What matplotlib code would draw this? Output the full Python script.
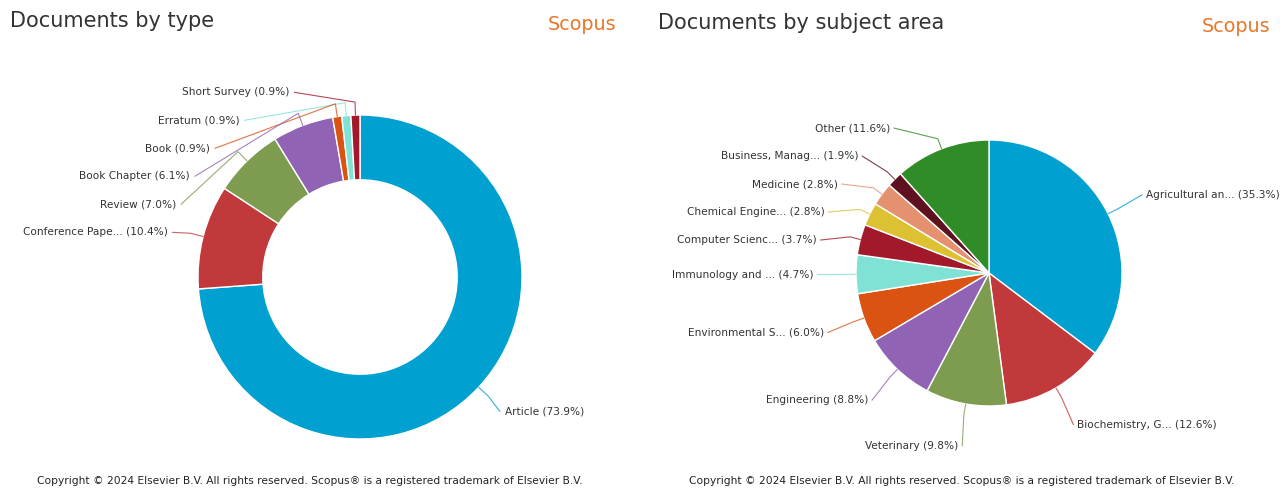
import numpy as np
import matplotlib.pyplot as plt

# documents by type
type_labels = ['Article', 'Conference Pape...', 'Review', 'Book Chapter',
               'Book', 'Erratum', 'Short Survey']
type_values = [73.9, 10.4, 7.0, 6.1, 0.9, 0.9, 0.9]
type_colors = ['#00a0d0', '#c2393c', '#7d9c4f', '#9163b4',
               '#da5312', '#80e2d5', '#a3192c']

# documents by subject area
subj_labels = ['Agricultural an...', 'Biochemistry, G...', 'Veterinary',
               'Engineering', 'Environmental S...', 'Immunology and ...',
               'Computer Scienc...', 'Chemical Engine...', 'Medicine',
               'Business, Manag...', 'Other']
subj_values = [35.3, 12.6, 9.8, 8.8, 6.0, 4.7, 3.7, 2.8, 2.8, 1.9, 11.6]
subj_colors = ['#00a0d0', '#c2393c', '#7d9c4f', '#9163b4', '#da5312',
               '#80e2d5', '#a3192c', '#dcc133', '#e5906f', '#5e1220',
               '#2f8c26']

TXT = '#333333'
ORANGE = '#e8772a'


def spread(items, gap, top):
    # push labels apart vertically, starting from the top one
    items.sort(key=lambda t: -t[1])
    prev = None
    for it in items:
        y = min(it[1], top) if prev is None else min(it[1], prev - gap)
        it[1] = y
        prev = y


def draw_pie(ax, labels, values, colors, rpx, hole, lab_r, top):
    wedges, _ = ax.pie(values, colors=colors, startangle=90, counterclock=False,
                       radius=1.0, center=(0, 0), normalize=True,
                       wedgeprops=dict(width=1.0 - hole if hole else None,
                                       edgecolor='white', linewidth=1.0))
    gap = 28.0 / rpx
    left, right = [], []
    for i, w in enumerate(wedges):
        ang = np.deg2rad((w.theta1 + w.theta2) / 2)
        y = lab_r * np.sin(ang)
        (right if np.cos(ang) >= 0 else left).append([i, y, ang])
    spread(left, gap, top)
    spread(right, gap, top)
    for side, items in ((1, right), (-1, left)):
        for i, y, ang in items:
            x = side * np.sqrt(max(lab_r ** 2 - y ** 2, 0.02))
            ex, ey = np.cos(ang), np.sin(ang)
            mx, my = 1.08 * ex, 1.08 * ey
            ax.plot([ex, mx, x - side * 0.03], [ey, my, y], color=colors[i],
                    lw=0.8, alpha=0.8, solid_capstyle='round')
            ax.text(x, y, f'{labels[i]} ({values[i]:.1f}%)', fontsize=7.6,
                    color=TXT, ha='left' if side > 0 else 'right', va='center')


fig = plt.figure(figsize=(12.8, 4.88), dpi=100)

ax1 = fig.add_axes([0, 0, 0.5, 1])
r1 = 162.0
draw_pie(ax1, type_labels, type_values, type_colors, r1, 0.6, 1.22, 1.14)
ax1.set_xlim(-360 / r1, 280 / r1)
ax1.set_ylim(-211 / r1, 277 / r1)
ax1.set_aspect('auto')
ax1.axis('off')

ax2 = fig.add_axes([0.5, 0, 0.5, 1])
r2 = 133.0
draw_pie(ax2, subj_labels, subj_values, subj_colors, r2, 0, 1.32, 1.09)
ax2.set_xlim(-349 / r2, 291 / r2)
ax2.set_ylim(-215 / r2, 273 / r2)
ax2.set_aspect('auto')
ax2.axis('off')

# headers and footers
fig.text(10 / 1280, 1 - 21 / 488, 'Documents by type', fontsize=15, color=TXT,
         va='center', ha='left')
fig.text(616 / 1280, 1 - 25 / 488, 'Scopus', fontsize=13.8, color=ORANGE,
         va='center', ha='right')
fig.text(658 / 1280, 1 - 23 / 488, 'Documents by subject area', fontsize=15,
         color=TXT, va='center', ha='left')
fig.text(1270 / 1280, 1 - 27 / 488, 'Scopus', fontsize=13.8, color=ORANGE,
         va='center', ha='right')

copy = ('Copyright \u00a9 2024 Elsevier B.V. All rights reserved. '
        'Scopus\u00ae is a registered trademark of Elsevier B.V.')
fig.text(310 / 1280, 1 - 481 / 488, copy, fontsize=7.7, color='#222222',
         ha='center', va='center')
fig.text(962 / 1280, 1 - 481 / 488, copy, fontsize=7.7, color='#222222',
         ha='center', va='center')

fig.savefig('out.png', dpi=100, facecolor='white')
